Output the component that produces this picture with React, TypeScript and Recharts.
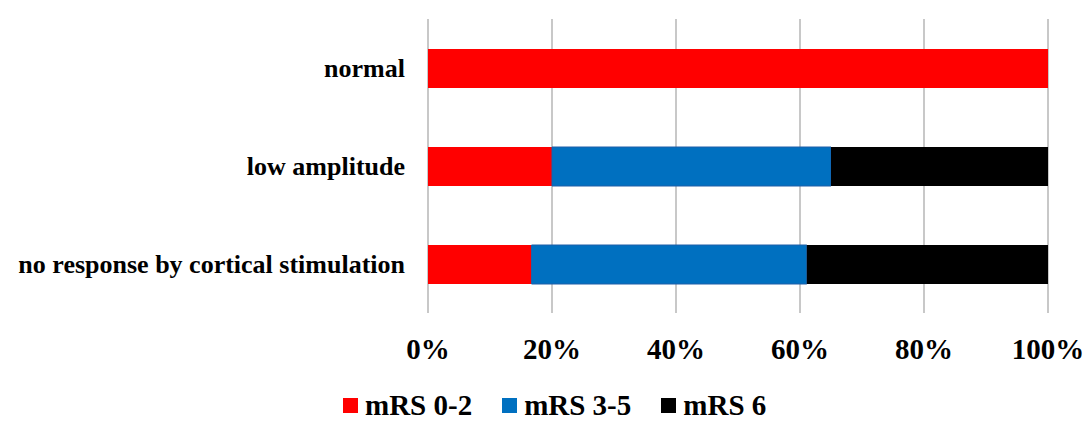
import React from "react";
import { BarChart, Bar, XAxis, YAxis, CartesianGrid, Legend } from "recharts";

const categories = ["normal", "low amplitude", "no response by cortical stimulation"];
const mrs02 = [100, 20, 16.7];
const mrs35 = [0, 45, 44.4];
const mrs6 = [0, 35, 38.9];
const xTicks = [0, 20, 40, 60, 80, 100];

const seriesNames = ["mRS 0-2", "mRS 3-5", "mRS 6"];
const seriesColors = ["#FF0000", "#0070C0", "#000000"];

const data = categories.map((c, i) => ({
  name: c,
  a: mrs02[i],
  b: mrs35[i],
  c: mrs6[i],
}));

const FONT = "'Liberation Serif', 'Times New Roman', serif";

const renderLegend = (props: any) => {
  const payload = props.payload || [];
  return (
    <div style={{ display: "flex", alignItems: "center", paddingLeft: 343, height: 30 }}>
      {payload.map((p: any, i: number) => (
        <div key={i} style={{ display: "flex", alignItems: "center", marginRight: i < payload.length - 1 ? 30 : 0 }}>
          <div style={{ width: 15, height: 15, background: p.color, marginRight: 7 }} />
          <span style={{ fontFamily: FONT, fontWeight: "bold", fontSize: 29, color: "#000", lineHeight: "30px" }}>
            {p.value}
          </span>
        </div>
      ))}
    </div>
  );
};

export default function App() {
  return (
    <div style={{ position: "absolute", left: 0, top: 0, width: 1084, height: 432, background: "#fff" }}>
      <BarChart
        width={1084}
        height={432}
        data={data}
        layout="vertical"
        margin={{ top: 19, right: 36, bottom: 20, left: 0 }}
        barSize={39}
      >
        <CartesianGrid horizontal={false} stroke="#C8C8C8" strokeWidth={2} />
        <XAxis
          type="number"
          domain={[0, 100]}
          ticks={xTicks}
          tickFormatter={(v: number) => `${v}%`}
          axisLine={false}
          tickLine={false}
          tickSize={0}
          tickMargin={25}
          height={69}
          interval={0}
          tick={{ fontFamily: FONT, fontWeight: "bold", fontSize: 29, fill: "#000" }}
        />
        <YAxis
          type="category"
          dataKey="name"
          width={428}
          axisLine={false}
          tickLine={false}
          tickSize={0}
          tickMargin={23}
          interval={0}
          tick={{ fontFamily: FONT, fontWeight: "bold", fontSize: 26, fill: "#000" }}
        />
        <Legend
          verticalAlign="bottom"
          align="left"
          content={renderLegend}
          wrapperStyle={{ left: 0, top: 390, width: 1084 }}
        />
        <Bar dataKey="a" name={seriesNames[0]} stackId="s" fill={seriesColors[0]} isAnimationActive={false} />
        <Bar dataKey="b" name={seriesNames[1]} stackId="s" fill={seriesColors[1]} stroke="#1F5FA8" strokeWidth={1} isAnimationActive={false} />
        <Bar dataKey="c" name={seriesNames[2]} stackId="s" fill={seriesColors[2]} isAnimationActive={false} />
      </BarChart>
    </div>
  );
}
